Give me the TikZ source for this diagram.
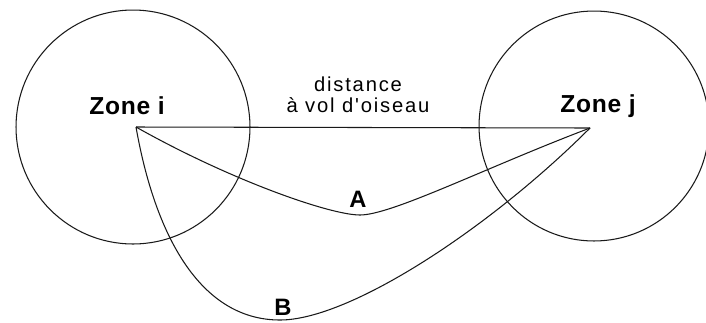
\documentclass[tikz,border=0pt]{standalone}
\usepackage{fontspec}
\setmainfont{Liberation Sans}
\newfontfamily\lblfont[LetterSpace=9]{Liberation Sans}
\newfontfamily\zonefont[LetterSpace=3]{Liberation Sans}
\usepackage{tikz}
\definecolor{ink}{RGB}{25,25,25}
\tikzset{
  zone/.style={circle, draw=ink, line width=0.6pt, inner sep=0pt},
  rte/.style={draw=ink, line width=0.6pt},
  zlbl/.style={inner sep=0pt, font=\zonefont\bfseries\fontsize{14}{16}\selectfont},
  dlbl/.style={inner sep=0pt, align=center, font=\lblfont\fontsize{11.5}{12}\selectfont},
  rlbl/.style={inner sep=0pt, font=\bfseries\fontsize{13.5}{15}\selectfont},
  plan/.style={x=0.02cm, y=-0.02cm}
}
\begin{document}
\begin{tikzpicture}[plan]
        \useasboundingbox (0,0) rectangle (706,322);
        \node[zone, minimum size=4.68cm] (ci) at (133,127) {};
        \node[zone, minimum size=4.6cm] (cj) at (594,126) {};
        \coordinate (pi) at (136,127);
        \coordinate (pj) at (590,128);
        \coordinate (abot) at (360,215);
        \coordinate (bbot) at (280,320);
        \node[zlbl, anchor=base] (zi) at (127,114) {Zone i};
        \node[zlbl, anchor=base] (zj) at (598,112) {Zone j};
        \node[dlbl] (dist) at (358,95) {distance\\à vol d'oiseau};
        \draw[rte] (pi) -- (pj);
        \draw[rte] (pi) .. controls (230,180) and (330,215) .. (abot)
          .. controls (392,215) and (487,167) .. (pj);
        \draw[rte] (pi) .. controls (155,235) and (200,320) .. (bbot)
          .. controls (350,320) and (490,228) .. (pj);
        \node[rlbl, anchor=base] (la) at (358,207) {A};
        \node[rlbl, anchor=base] (lb) at (283,315) {B};
      \end{tikzpicture}
\end{document}
